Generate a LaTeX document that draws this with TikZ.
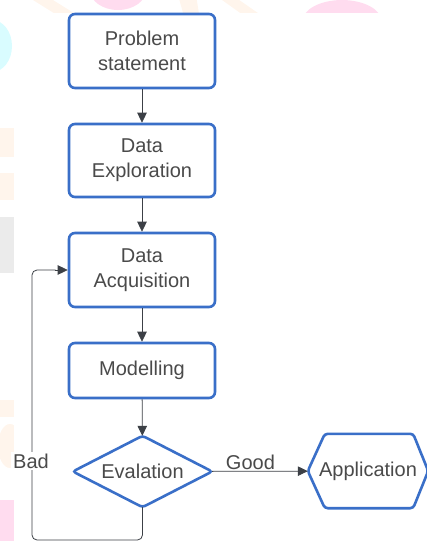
\documentclass[tikz,border=0pt]{standalone}
\usepackage{fontspec}
\setmainfont{Liberation Sans}
\usetikzlibrary{arrows.meta}

\definecolor{boxblue}{HTML}{3A6FC8}
\definecolor{linegray}{HTML}{3C4046}
\definecolor{txtgray}{HTML}{4A4A4A}
\definecolor{blobpeach}{HTML}{FFF5EC}
\definecolor{blobpink}{HTML}{FFDCEF}
\definecolor{blobcyan}{HTML}{D9FCFF}
\definecolor{blobgray}{HTML}{EBEBEB}

\tikzset{
  px/.style={x=1pt,y=-1pt},
  procbox/.style={draw=boxblue, line width=2.6pt, rounded corners=6pt, fill=white,
    minimum width=146pt, inner sep=0pt, text=txtgray, font=\fontsize{20}{25}\selectfont,
    align=center},
  shapeline/.style={draw=boxblue, line width=2.6pt, rounded corners=3pt},
  flow/.style={draw=linegray, line width=0.8pt, -{Triangle[length=10pt,width=9.5pt]}},
  loopline/.style={draw=linegray, line width=0.8pt, rounded corners=5pt},
  lbl/.style={text=txtgray, font=\fontsize{20}{25}\selectfont, inner sep=1pt},
}

\begin{document}
\begin{tikzpicture}[px]
\useasboundingbox (0,0) rectangle (427,541);

% faint decorative blobs along the top and left margins
\begin{scope}
  \clip (0,0) rectangle (427,13) (0,0) rectangle (14,541);
  \fill[blobpeach] (25,-5) -- (45,-5) -- (85,20) -- (65,20) -- cycle;
  \fill[blobpink] (118,-10) ellipse (28 and 20);
  \fill[blobpeach] (178,-5) -- (196,-5) -- (200,20) -- (185,20) -- cycle;
  \fill[blobpeach] (215,-5) -- (232,-5) -- (268,20) -- (250,20) -- cycle;
  \fill[blobpink] (342,22) ellipse (40 and 22);
  \fill[blobcyan] (-8,46) ellipse (20 and 26);
  \fill[blobpeach] (-5,128) rectangle (14,157);
  \fill[blobpeach] (-5,173) rectangle (14,200);
  \fill[blobgray] (-5,217) rectangle (14,273);
  \fill[blobpeach] (-5,400) rectangle (14,417);
  \fill[blobpeach] (10,446) ellipse (12 and 22);
  \fill[blobpink] (-5,500) rectangle (14,545);
\end{scope}
\fill[white] (14,13) rectangle (427,541);

% process steps
\node[procbox, minimum height=74pt] (prob) at (142,51) {Problem\\statement};
\node[procbox, minimum height=73pt] (explore) at (142,160.5) {Data\\Exploration};
\node[procbox, minimum height=74pt] (acq) at (142,270) {Data\\Acquisition};
\node[procbox, minimum height=55pt] (model) at (142,370.5) {Modelling};

% decision diamond
\node[lbl, minimum width=139pt, minimum height=71pt, inner sep=0pt] (eval) at (142.5,471.5) {Evalation};
\draw[shapeline] (eval.west) -- (eval.north) -- (eval.east) -- (eval.south) -- cycle;

% hexagonal terminal
\node[lbl, minimum width=120pt, minimum height=74pt, inner sep=0pt] (app) at (368,471) {Application};
\draw[shapeline]
  (app.west) -- ([xshift=17pt]app.north west) -- ([xshift=-15pt]app.north east)
  -- (app.east) -- ([xshift=-15pt]app.south east) -- ([xshift=17pt]app.south west) -- cycle;

% connectors
\draw[flow] (prob) -- (explore);
\draw[flow] (explore) -- (acq);
\draw[flow] (acq) -- (model);
\draw[flow] (model) -- (eval);
\draw[flow] (eval) -- node[lbl, above, pos=0.4] {Good} (app);

\coordinate (loopbottom) at (142,540);
\coordinate (loopleft) at (32,540);
\draw[loopline] (eval.south) -- (eval.south |- loopbottom) -- (loopleft) -- (loopleft |- acq.west)
  -- ([xshift=-12pt]acq.west);
\draw[flow] ([xshift=-13pt]acq.west) -- (acq.west);
\node[lbl, fill=white, inner sep=2pt] (bad) at (31,461) {Bad};
\end{tikzpicture}
\end{document}
